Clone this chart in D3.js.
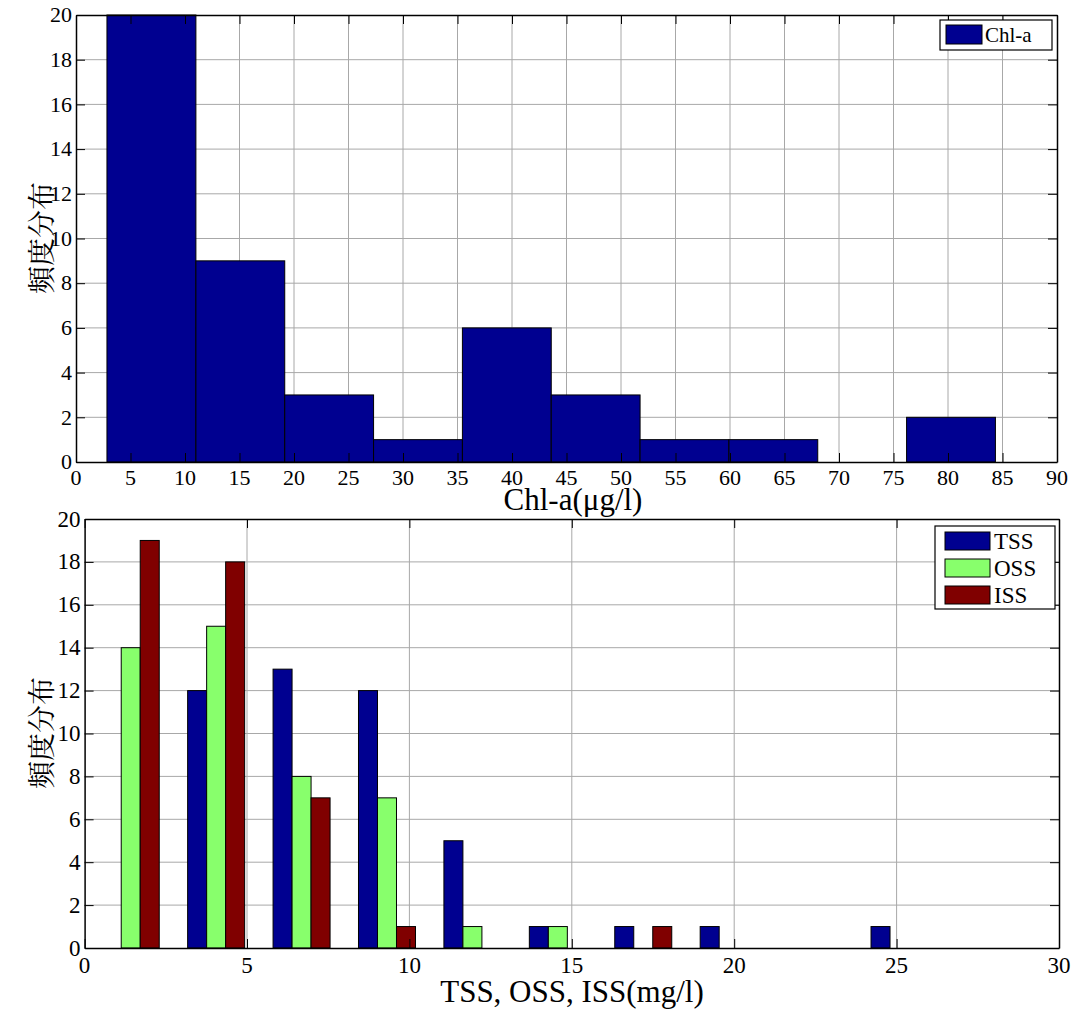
<!DOCTYPE html>
<html>
<head>
<meta charset="utf-8">
<script src="https://cdn.jsdelivr.net/npm/d3@7"></script>
<style>
  body { margin: 0; background: #fff; }
  .grid line { stroke: #a8a8a8; stroke-width: 1; }
</style>
</head>
<body>
<script>
// Chl-a histogram (10 bins)
var chlEdges = [2.84, 11.0, 19.15, 27.3, 35.45, 43.6, 51.75, 59.9, 68.05, 76.2, 84.35];
var chlCounts = [20, 9, 3, 1, 6, 3, 1, 1, 0, 2];
var chlXTicks = [0, 5, 10, 15, 20, 25, 30, 35, 40, 45, 50, 55, 60, 65, 70, 75, 80, 85, 90];
var yTicks = [0, 2, 4, 6, 8, 10, 12, 14, 16, 18, 20];

// TSS / OSS / ISS grouped histogram
var ssCenters = [1.42, 4.05, 6.68, 9.31, 11.94, 14.57, 17.20, 19.83, 22.46, 25.09];
var tss = [0, 12, 13, 12, 5, 1, 1, 1, 0, 1];
var oss = [14, 15, 8, 7, 1, 1, 0, 0, 0, 0];
var iss = [19, 18, 7, 1, 0, 0, 1, 0, 0, 0];
var ssNames = ["TSS", "OSS", "ISS"];
var ssColors = ["#000090", "#88ff6c", "#800000"];
var ssXTicks = [0, 5, 10, 15, 20, 25, 30];
var barW = 0.585;

var SERIF = "Liberation Serif";
var CJK = "Noto Serif CJK JP, Noto Sans CJK JP";

var w = 1078, h = 1014;
var svg = d3.select("body").append("svg").attr("width", w).attr("height", h);

// background grid
function drawGrid(g, x, y, xTicks, yT) {
  var x0 = x.range()[0], x1 = x.range()[1], y0 = y.range()[0], y1 = y.range()[1];
  var grid = g.append("g").attr("class", "grid");
  grid.selectAll(".vx").data(xTicks.slice(1, -1)).enter().append("line")
    .attr("x1", function(d) { return x(d); }).attr("x2", function(d) { return x(d); })
    .attr("y1", y0).attr("y2", y1);
  grid.selectAll(".hy").data(yT.slice(1, -1)).enter().append("line")
    .attr("x1", x0).attr("x2", x1)
    .attr("y1", function(d) { return y(d); }).attr("y2", function(d) { return y(d); });
}

// box with inward ticks on all four sides, labels drawn as own text
function drawAxes(g, x, y, xTicks, yT, tickLen, fs, xBase) {
  var x0 = x.range()[0], x1 = x.range()[1], y0 = y.range()[0], y1 = y.range()[1];
  var axes = [
    [d3.axisBottom(x).tickValues(xTicks), "translate(0," + y0 + ")"],
    [d3.axisTop(x).tickValues(xTicks), "translate(0," + y1 + ")"],
    [d3.axisLeft(y).tickValues(yT), "translate(" + x0 + ",0)"],
    [d3.axisRight(y).tickValues(yT), "translate(" + x1 + ",0)"]
  ];
  axes.forEach(function(p) {
    p[0].tickSizeInner(-tickLen).tickSizeOuter(0).tickFormat("");
    var a = g.append("g").attr("transform", p[1]).call(p[0]);
    a.select(".domain").attr("stroke", "#000").attr("stroke-width", 1.5);
    a.selectAll(".tick line").attr("stroke", "#000");
  });
  g.append("g").selectAll("text").data(xTicks).enter().append("text")
    .attr("x", function(d) { return x(d); })
    .attr("y", y0 + xBase)
    .attr("text-anchor", "middle")
    .attr("font-family", SERIF).attr("font-size", fs).attr("fill", "#000")
    .text(function(d) { return d; });
  g.append("g").selectAll("text").data(yT).enter().append("text")
    .attr("x", x0 - 4)
    .attr("y", function(d) { return y(d) + fs * 0.33; })
    .attr("text-anchor", "end")
    .attr("font-family", SERIF).attr("font-size", fs).attr("fill", "#000")
    .text(function(d) { return d; });
}

// ---------- top chart ----------
var t = svg.append("g");
var xTop = d3.scaleLinear().domain([0, 90]).range([76, 1057]);
var yTop = d3.scaleLinear().domain([0, 20]).range([462, 15]);
drawGrid(t, xTop, yTop, chlXTicks, yTicks);

t.selectAll(".bar").data(chlCounts).enter().append("rect")
  .attr("x", function(d, i) { return xTop(chlEdges[i]); })
  .attr("width", function(d, i) { return xTop(chlEdges[i + 1]) - xTop(chlEdges[i]); })
  .attr("y", function(d) { return yTop(d); })
  .attr("height", function(d) { return yTop(0) - yTop(d); })
  .attr("fill", "#000090")
  .attr("stroke", "#000").attr("stroke-width", 1);

drawAxes(t, xTop, yTop, chlXTicks, yTicks, 9, 22, 23);

t.append("text").attr("x", 573).attr("y", 510).attr("text-anchor", "middle")
  .attr("font-family", SERIF).attr("font-size", 31).text("Chl-a(\u03bcg/l)");
t.append("text").attr("transform", "translate(52,238) rotate(-90)")
  .attr("text-anchor", "middle").attr("font-family", CJK).attr("font-size", 28).text("頻度分布");

// legend
var lt = t.append("g");
lt.append("rect").attr("x", 940).attr("y", 20).attr("width", 112).attr("height", 30)
  .attr("fill", "#fff").attr("stroke", "#000").attr("stroke-width", 1.2);
lt.append("rect").attr("x", 946).attr("y", 25).attr("width", 36).attr("height", 19)
  .attr("fill", "#000090").attr("stroke", "#000");
lt.append("text").attr("x", 985).attr("y", 42)
  .attr("font-family", SERIF).attr("font-size", 21).text("Chl-a");

// ---------- bottom chart ----------
var b = svg.append("g");
var xBot = d3.scaleLinear().domain([0, 30]).range([84.6, 1059]);
var yBot = d3.scaleLinear().domain([0, 20]).range([948, 519]);
drawGrid(b, xBot, yBot, ssXTicks, yTicks);

var series = [tss, oss, iss];
series.forEach(function(s, k) {
  var data = s.map(function(v, i) { return { v: v, c: ssCenters[i] }; })
    .filter(function(d) { return d.v > 0; });
  b.append("g").selectAll("rect").data(data).enter().append("rect")
    .attr("x", function(d) { return xBot(d.c + (k - 1.5) * barW); })
    .attr("width", xBot(barW) - xBot(0))
    .attr("y", function(d) { return yBot(d.v); })
    .attr("height", function(d) { return yBot(0) - yBot(d.v); })
    .attr("fill", ssColors[k])
    .attr("stroke", "#000").attr("stroke-width", 1);
});

drawAxes(b, xBot, yBot, ssXTicks, yTicks, 9, 23, 25);

b.append("text").attr("x", 572).attr("y", 1002).attr("text-anchor", "middle")
  .attr("font-family", SERIF).attr("font-size", 31).text("TSS, OSS, ISS(mg/l)");
b.append("text").attr("transform", "translate(52,733) rotate(-90)")
  .attr("text-anchor", "middle").attr("font-family", CJK).attr("font-size", 28).text("頻度分布");

// legend
var lb = b.append("g");
lb.append("rect").attr("x", 935).attr("y", 526).attr("width", 120).attr("height", 83)
  .attr("fill", "#fff").attr("stroke", "#000").attr("stroke-width", 1.2);
ssNames.forEach(function(n, k) {
  lb.append("rect").attr("x", 945).attr("y", 532 + k * 27).attr("width", 45).attr("height", 18)
    .attr("fill", ssColors[k]).attr("stroke", "#000");
  lb.append("text").attr("x", 994).attr("y", 549 + k * 27)
    .attr("font-family", SERIF).attr("font-size", 23).text(n);
});
</script>
</body>
</html>
